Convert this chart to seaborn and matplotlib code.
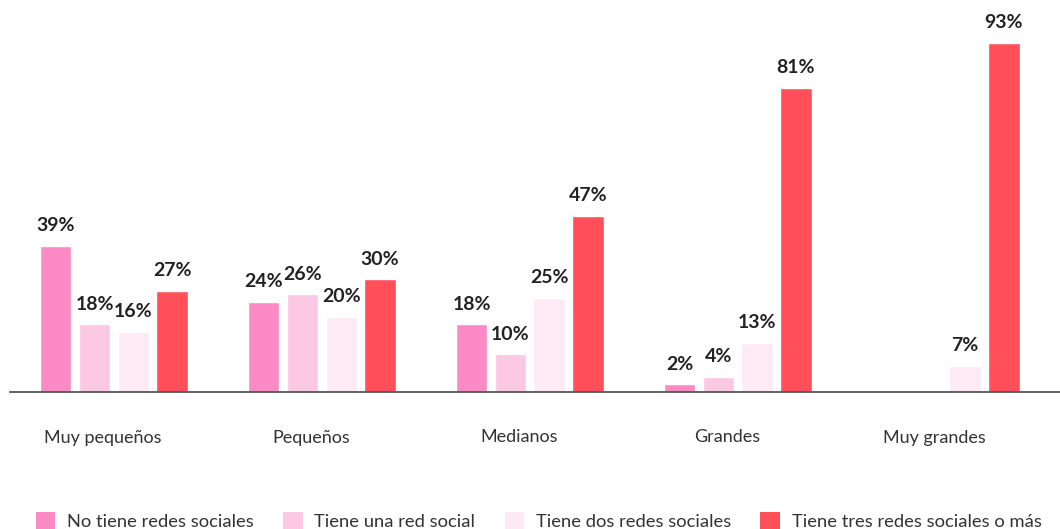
import numpy as np
import pandas as pd
import matplotlib
matplotlib.use("Agg")
import matplotlib.pyplot as plt
import matplotlib.transforms as mtransforms
from matplotlib.patches import Patch
import seaborn as sns

categories = ["Muy pequeños", "Pequeños", "Medianos", "Grandes", "Muy grandes"]
series = ["No tiene redes sociales", "Tiene una red social",
          "Tiene dos redes sociales", "Tiene tres redes sociales o más"]
no_tiene = [39, 24, 18, 2, np.nan]
una_red = [18, 26, 10, 4, np.nan]
dos_redes = [16, 20, 25, 13, 7]
tres_o_mas = [27, 30, 47, 81, 93]
colors = ["#FB8AC4", "#FDC8E3", "#FDEAF4", "#FF5059"]

rows = []
for s, vals in zip(series, [no_tiene, una_red, dos_redes, tres_o_mas]):
    for c, v in zip(categories, vals):
        if np.isfinite(v):
            rows.append({"cat": c, "serie": s, "valor": v})
df = pd.DataFrame(rows)

sns.set_theme(style="white")
plt.rcParams["font.family"] = ["Lato", "DejaVu Sans"]

fig = plt.figure(figsize=(10.6, 5.29), dpi=100)
ax = fig.add_axes([10 / 1060, (529 - 392) / 529, 1 - 10 / 1060, 392 / 529])

sns.barplot(data=df, x="cat", y="valor", hue="serie", order=categories,
            hue_order=series, palette=colors, width=0.747, gap=0.19,
            errorbar=None, saturation=1, legend=False, ax=ax)

for cont in ax.containers:
    labels = [f"{v:.0f}%" for v in cont.datavalues]
    ax.bar_label(cont, labels=labels, padding=8.5, fontsize=14,
                 fontweight="bold", color="#222222")

ax.set_xlim(-0.5, 4.55)
ax.set_ylim(0, 104.4)
ax.set_xlabel("")
ax.set_ylabel("")
ax.set_yticks([])
for side in ["top", "left", "right"]:
    ax.spines[side].set_visible(False)
ax.spines["bottom"].set_color("#555555")
ax.spines["bottom"].set_linewidth(1.3)
ax.spines["bottom"].set_zorder(5)
ax.tick_params(axis="x", length=0, pad=27, labelsize=13, labelcolor="#333333")
offset = mtransforms.ScaledTranslation(-11 / 100, 0, fig.dpi_scale_trans)
for lbl in ax.get_xticklabels():
    lbl.set_transform(lbl.get_transform() + offset)

handles = [Patch(facecolor=c, edgecolor="none") for c in colors]
fig.legend(handles, series, loc="center left", bbox_to_anchor=(36 / 1060, 8 / 529),
           ncol=4, frameon=False, fontsize=13.2, handlelength=1.05, handleheight=1.05,
           handletextpad=0.65, columnspacing=1.6, labelcolor="#333333",
           borderaxespad=0, borderpad=0)

fig.savefig("out.png", dpi=100)
